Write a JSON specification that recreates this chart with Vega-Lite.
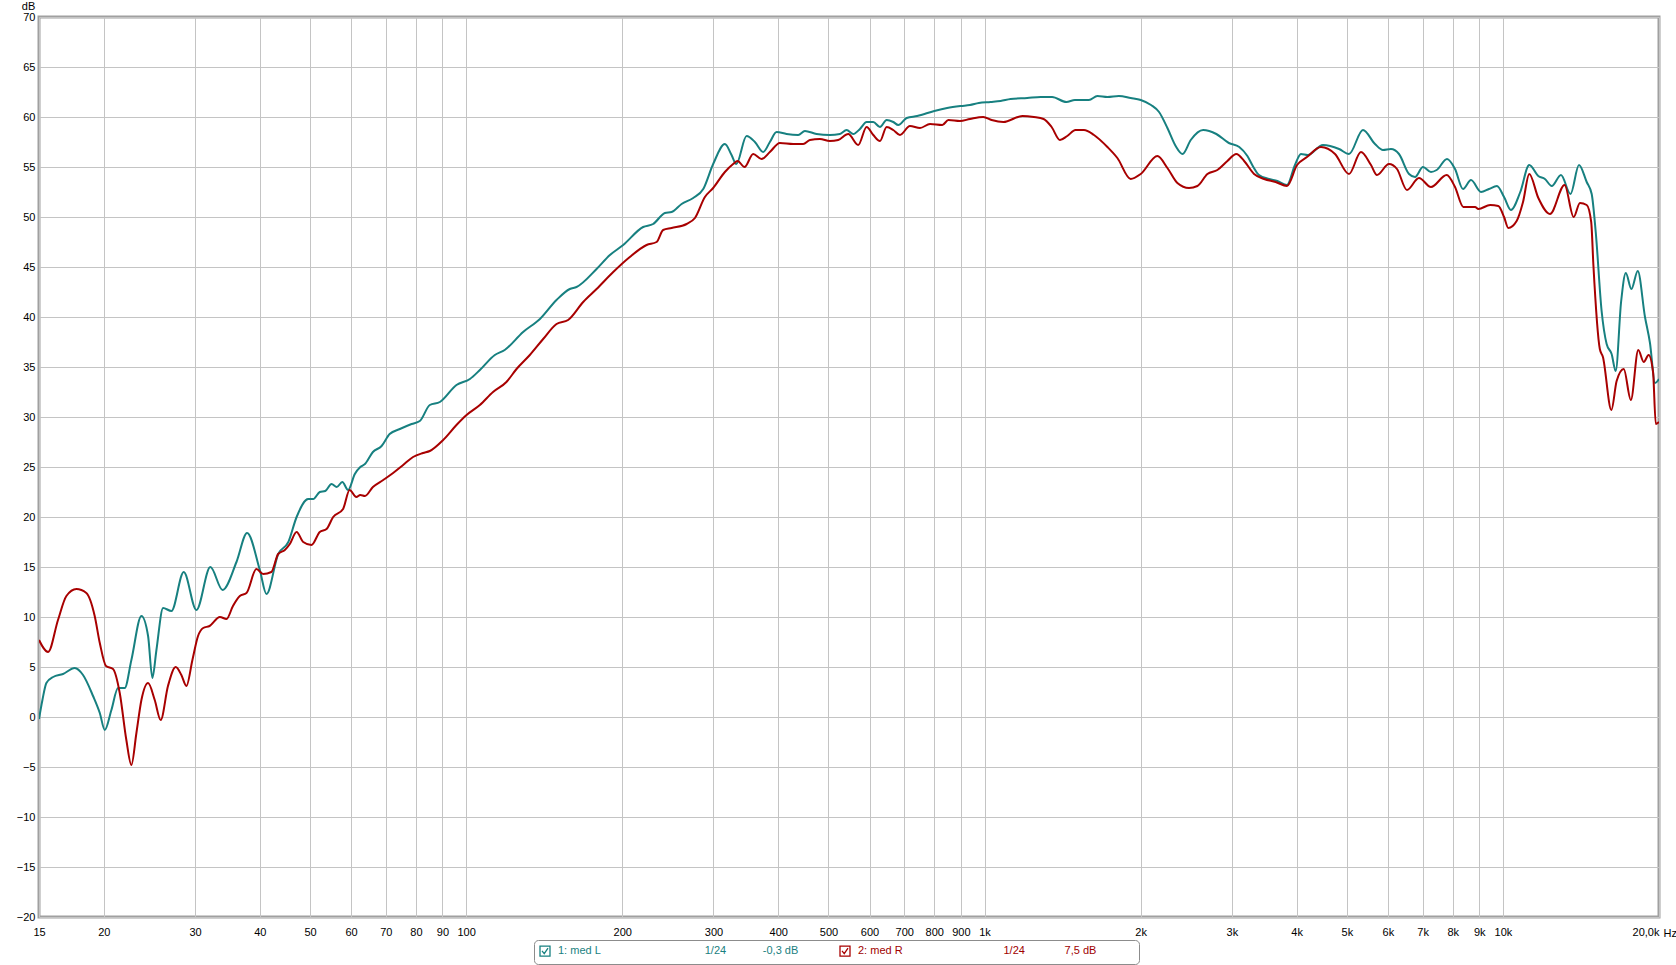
{
  "$schema": "https://vega.github.io/schema/vega-lite/v6.json",
  "width": 1620,
  "height": 900,
  "autosize": {"type": "none"},
  "padding": {"left": 39, "top": 17, "right": 17, "bottom": 48},
  "background": "white",
  "config": {
    "view": {"stroke": "#a0a0a0", "strokeWidth": 3},
    "font": "Liberation Sans",
    "axis": {
      "labelFont": "Liberation Sans",
      "labelFontSize": 11,
      "labelColor": "#000000",
      "titleFont": "Liberation Sans",
      "titleFontSize": 11,
      "titleFontWeight": "normal",
      "titleColor": "#000000",
      "gridColor": "#c4c4c4",
      "gridWidth": 1,
      "ticks": false,
      "domain": false,
      "labelOverlap": false,
      "labelFlush": false,
      "labelBound": false
    }
  },
  "data": {
    "values": [
      {"s": "1: med L", "f": 15.0, "db": -0.2},
      {"s": "1: med L", "f": 15.23, "db": 1.7},
      {"s": "1: med L", "f": 15.5, "db": 3.4},
      {"s": "1: med L", "f": 15.97, "db": 4.0},
      {"s": "1: med L", "f": 16.69, "db": 4.3},
      {"s": "1: med L", "f": 17.58, "db": 4.9},
      {"s": "1: med L", "f": 18.24, "db": 4.2},
      {"s": "1: med L", "f": 19.07, "db": 2.1},
      {"s": "1: med L", "f": 19.65, "db": 0.4},
      {"s": "1: med L", "f": 20.09, "db": -1.3},
      {"s": "1: med L", "f": 20.69, "db": 0.7},
      {"s": "1: med L", "f": 21.31, "db": 2.9},
      {"s": "1: med L", "f": 21.95, "db": 2.9},
      {"s": "1: med L", "f": 22.61, "db": 5.7},
      {"s": "1: med L", "f": 23.64, "db": 10.1},
      {"s": "1: med L", "f": 24.35, "db": 8.1},
      {"s": "1: med L", "f": 24.82, "db": 3.9},
      {"s": "1: med L", "f": 25.27, "db": 6.7},
      {"s": "1: med L", "f": 26.03, "db": 10.9},
      {"s": "1: med L", "f": 27.01, "db": 10.6},
      {"s": "1: med L", "f": 28.53, "db": 14.5},
      {"s": "1: med L", "f": 30.18, "db": 10.7},
      {"s": "1: med L", "f": 32.11, "db": 15.0},
      {"s": "1: med L", "f": 33.9, "db": 12.7},
      {"s": "1: med L", "f": 36.06, "db": 15.5},
      {"s": "1: med L", "f": 37.8, "db": 18.4},
      {"s": "1: med L", "f": 40.0, "db": 14.7},
      {"s": "1: med L", "f": 41.2, "db": 12.3},
      {"s": "1: med L", "f": 43.4, "db": 16.3},
      {"s": "1: med L", "f": 45.4, "db": 17.5},
      {"s": "1: med L", "f": 47.1, "db": 20.0},
      {"s": "1: med L", "f": 49.6, "db": 21.8},
      {"s": "1: med L", "f": 50.7, "db": 21.8},
      {"s": "1: med L", "f": 52.2, "db": 22.5},
      {"s": "1: med L", "f": 53.5, "db": 22.6},
      {"s": "1: med L", "f": 55.0, "db": 23.3},
      {"s": "1: med L", "f": 56.3, "db": 23.0},
      {"s": "1: med L", "f": 57.7, "db": 23.5},
      {"s": "1: med L", "f": 59.2, "db": 22.7},
      {"s": "1: med L", "f": 61.0, "db": 24.3},
      {"s": "1: med L", "f": 62.5, "db": 25.0},
      {"s": "1: med L", "f": 63.8, "db": 25.3},
      {"s": "1: med L", "f": 66.1, "db": 26.5},
      {"s": "1: med L", "f": 68.7, "db": 27.1},
      {"s": "1: med L", "f": 71.2, "db": 28.3},
      {"s": "1: med L", "f": 74.5, "db": 28.8},
      {"s": "1: med L", "f": 78.5, "db": 29.3},
      {"s": "1: med L", "f": 81.4, "db": 29.6},
      {"s": "1: med L", "f": 85.1, "db": 31.2},
      {"s": "1: med L", "f": 89.0, "db": 31.5},
      {"s": "1: med L", "f": 95.8, "db": 33.2},
      {"s": "1: med L", "f": 101.7, "db": 33.8},
      {"s": "1: med L", "f": 106.3, "db": 34.7},
      {"s": "1: med L", "f": 113.6, "db": 36.2},
      {"s": "1: med L", "f": 118.7, "db": 36.7},
      {"s": "1: med L", "f": 128.8, "db": 38.5},
      {"s": "1: med L", "f": 138.8, "db": 39.8},
      {"s": "1: med L", "f": 149.4, "db": 41.7},
      {"s": "1: med L", "f": 158.5, "db": 42.8},
      {"s": "1: med L", "f": 163.3, "db": 43.0},
      {"s": "1: med L", "f": 178.5, "db": 44.8},
      {"s": "1: med L", "f": 189.4, "db": 46.2},
      {"s": "1: med L", "f": 200.9, "db": 47.2},
      {"s": "1: med L", "f": 219.5, "db": 49.0},
      {"s": "1: med L", "f": 229.5, "db": 49.3},
      {"s": "1: med L", "f": 241.8, "db": 50.4},
      {"s": "1: med L", "f": 249.1, "db": 50.5},
      {"s": "1: med L", "f": 260.4, "db": 51.3},
      {"s": "1: med L", "f": 274.2, "db": 51.9},
      {"s": "1: med L", "f": 286.7, "db": 52.8},
      {"s": "1: med L", "f": 299.6, "db": 55.3},
      {"s": "1: med L", "f": 315.6, "db": 57.3},
      {"s": "1: med L", "f": 325.1, "db": 56.2},
      {"s": "1: med L", "f": 332.0, "db": 55.3},
      {"s": "1: med L", "f": 347.5, "db": 58.1},
      {"s": "1: med L", "f": 360.6, "db": 57.5},
      {"s": "1: med L", "f": 374.1, "db": 56.5},
      {"s": "1: med L", "f": 385.4, "db": 57.5},
      {"s": "1: med L", "f": 397.1, "db": 58.5},
      {"s": "1: med L", "f": 415.1, "db": 58.3},
      {"s": "1: med L", "f": 437.1, "db": 58.2},
      {"s": "1: med L", "f": 450.3, "db": 58.6},
      {"s": "1: med L", "f": 474.3, "db": 58.3},
      {"s": "1: med L", "f": 503.0, "db": 58.2},
      {"s": "1: med L", "f": 526.0, "db": 58.3},
      {"s": "1: med L", "f": 541.9, "db": 58.7},
      {"s": "1: med L", "f": 558.2, "db": 58.3},
      {"s": "1: med L", "f": 575.0, "db": 58.8},
      {"s": "1: med L", "f": 592.3, "db": 59.5},
      {"s": "1: med L", "f": 610.1, "db": 59.5},
      {"s": "1: med L", "f": 628.4, "db": 59.0},
      {"s": "1: med L", "f": 647.4, "db": 59.7},
      {"s": "1: med L", "f": 666.8, "db": 59.5},
      {"s": "1: med L", "f": 681.8, "db": 59.2},
      {"s": "1: med L", "f": 707.7, "db": 59.9},
      {"s": "1: med L", "f": 741.6, "db": 60.1},
      {"s": "1: med L", "f": 800, "db": 60.6},
      {"s": "1: med L", "f": 847, "db": 60.9},
      {"s": "1: med L", "f": 900, "db": 61.1},
      {"s": "1: med L", "f": 937, "db": 61.2},
      {"s": "1: med L", "f": 975, "db": 61.4},
      {"s": "1: med L", "f": 1027, "db": 61.5},
      {"s": "1: med L", "f": 1074, "db": 61.6},
      {"s": "1: med L", "f": 1123, "db": 61.8},
      {"s": "1: med L", "f": 1209, "db": 61.9},
      {"s": "1: med L", "f": 1283, "db": 62.0},
      {"s": "1: med L", "f": 1350, "db": 62.0},
      {"s": "1: med L", "f": 1438, "db": 61.5},
      {"s": "1: med L", "f": 1494, "db": 61.7},
      {"s": "1: med L", "f": 1590, "db": 61.7},
      {"s": "1: med L", "f": 1651, "db": 62.1},
      {"s": "1: med L", "f": 1726, "db": 62.0},
      {"s": "1: med L", "f": 1816, "db": 62.1},
      {"s": "1: med L", "f": 1914, "db": 61.9},
      {"s": "1: med L", "f": 2001, "db": 61.7},
      {"s": "1: med L", "f": 2095, "db": 61.2},
      {"s": "1: med L", "f": 2171, "db": 60.5},
      {"s": "1: med L", "f": 2253, "db": 58.9},
      {"s": "1: med L", "f": 2337, "db": 57.1},
      {"s": "1: med L", "f": 2410, "db": 56.3},
      {"s": "1: med L", "f": 2499, "db": 57.7},
      {"s": "1: med L", "f": 2640, "db": 58.7},
      {"s": "1: med L", "f": 2800, "db": 58.3},
      {"s": "1: med L", "f": 2960, "db": 57.4},
      {"s": "1: med L", "f": 3100, "db": 57.0},
      {"s": "1: med L", "f": 3214, "db": 56.1},
      {"s": "1: med L", "f": 3300, "db": 55.0},
      {"s": "1: med L", "f": 3384, "db": 54.2},
      {"s": "1: med L", "f": 3538, "db": 53.8},
      {"s": "1: med L", "f": 3672, "db": 53.6},
      {"s": "1: med L", "f": 3832, "db": 53.2},
      {"s": "1: med L", "f": 3970, "db": 55.2},
      {"s": "1: med L", "f": 4077, "db": 56.3},
      {"s": "1: med L", "f": 4200, "db": 56.2},
      {"s": "1: med L", "f": 4497, "db": 57.2},
      {"s": "1: med L", "f": 4829, "db": 56.8},
      {"s": "1: med L", "f": 5047, "db": 56.3},
      {"s": "1: med L", "f": 5370, "db": 58.7},
      {"s": "1: med L", "f": 5665, "db": 57.3},
      {"s": "1: med L", "f": 5870, "db": 56.7},
      {"s": "1: med L", "f": 6081, "db": 56.8},
      {"s": "1: med L", "f": 6302, "db": 56.3},
      {"s": "1: med L", "f": 6590, "db": 54.3},
      {"s": "1: med L", "f": 6767, "db": 54.0},
      {"s": "1: med L", "f": 7011, "db": 55.0},
      {"s": "1: med L", "f": 7264, "db": 54.5},
      {"s": "1: med L", "f": 7450, "db": 54.7},
      {"s": "1: med L", "f": 7801, "db": 55.8},
      {"s": "1: med L", "f": 8083, "db": 54.8},
      {"s": "1: med L", "f": 8375, "db": 52.8},
      {"s": "1: med L", "f": 8678, "db": 53.7},
      {"s": "1: med L", "f": 9072, "db": 52.5},
      {"s": "1: med L", "f": 9398, "db": 52.8},
      {"s": "1: med L", "f": 9737, "db": 53.1},
      {"s": "1: med L", "f": 10050, "db": 52.0},
      {"s": "1: med L", "f": 10360, "db": 50.7},
      {"s": "1: med L", "f": 10800, "db": 52.5},
      {"s": "1: med L", "f": 11240, "db": 55.2},
      {"s": "1: med L", "f": 11700, "db": 54.1},
      {"s": "1: med L", "f": 12050, "db": 53.8},
      {"s": "1: med L", "f": 12420, "db": 53.1},
      {"s": "1: med L", "f": 12941, "db": 54.2},
      {"s": "1: med L", "f": 13500, "db": 52.3},
      {"s": "1: med L", "f": 14018, "db": 55.2},
      {"s": "1: med L", "f": 14507, "db": 53.5},
      {"s": "1: med L", "f": 14832, "db": 52.3},
      {"s": "1: med L", "f": 15100, "db": 48.5},
      {"s": "1: med L", "f": 15500, "db": 40.6},
      {"s": "1: med L", "f": 15850, "db": 37.3},
      {"s": "1: med L", "f": 16205, "db": 36.3},
      {"s": "1: med L", "f": 16500, "db": 34.6},
      {"s": "1: med L", "f": 16900, "db": 41.5},
      {"s": "1: med L", "f": 17260, "db": 44.4},
      {"s": "1: med L", "f": 17690, "db": 42.8},
      {"s": "1: med L", "f": 18200, "db": 44.6},
      {"s": "1: med L", "f": 18793, "db": 40.0},
      {"s": "1: med L", "f": 19214, "db": 37.4},
      {"s": "1: med L", "f": 19650, "db": 33.4},
      {"s": "1: med L", "f": 20000, "db": 33.8},

      {"s": "2: med R", "f": 15.0, "db": 7.7},
      {"s": "2: med R", "f": 15.62, "db": 6.5},
      {"s": "2: med R", "f": 16.32, "db": 9.7},
      {"s": "2: med R", "f": 16.94, "db": 12.1},
      {"s": "2: med R", "f": 17.71, "db": 12.8},
      {"s": "2: med R", "f": 18.51, "db": 12.4},
      {"s": "2: med R", "f": 19.21, "db": 10.1},
      {"s": "2: med R", "f": 19.65, "db": 7.4},
      {"s": "2: med R", "f": 20.2, "db": 5.1},
      {"s": "2: med R", "f": 20.84, "db": 4.8},
      {"s": "2: med R", "f": 21.47, "db": 2.4},
      {"s": "2: med R", "f": 22.11, "db": -2.3},
      {"s": "2: med R", "f": 22.61, "db": -4.8},
      {"s": "2: med R", "f": 23.12, "db": -1.6},
      {"s": "2: med R", "f": 23.64, "db": 1.7},
      {"s": "2: med R", "f": 24.35, "db": 3.4},
      {"s": "2: med R", "f": 25.08, "db": 1.7},
      {"s": "2: med R", "f": 25.75, "db": -0.3},
      {"s": "2: med R", "f": 26.6, "db": 3.1},
      {"s": "2: med R", "f": 27.53, "db": 5.0},
      {"s": "2: med R", "f": 28.23, "db": 4.2},
      {"s": "2: med R", "f": 28.87, "db": 3.1},
      {"s": "2: med R", "f": 29.65, "db": 5.7},
      {"s": "2: med R", "f": 30.4, "db": 8.1},
      {"s": "2: med R", "f": 31.1, "db": 8.9},
      {"s": "2: med R", "f": 32.0, "db": 9.1},
      {"s": "2: med R", "f": 33.5, "db": 10.0},
      {"s": "2: med R", "f": 34.5, "db": 9.8},
      {"s": "2: med R", "f": 35.5, "db": 11.1},
      {"s": "2: med R", "f": 36.6, "db": 12.1},
      {"s": "2: med R", "f": 37.7, "db": 12.4},
      {"s": "2: med R", "f": 39.4, "db": 14.8},
      {"s": "2: med R", "f": 40.6, "db": 14.3},
      {"s": "2: med R", "f": 42.1, "db": 14.5},
      {"s": "2: med R", "f": 43.4, "db": 16.3},
      {"s": "2: med R", "f": 44.7, "db": 16.7},
      {"s": "2: med R", "f": 45.7, "db": 17.3},
      {"s": "2: med R", "f": 47.1, "db": 18.5},
      {"s": "2: med R", "f": 48.5, "db": 17.5},
      {"s": "2: med R", "f": 50.3, "db": 17.2},
      {"s": "2: med R", "f": 52.2, "db": 18.5},
      {"s": "2: med R", "f": 53.8, "db": 18.8},
      {"s": "2: med R", "f": 55.4, "db": 20.0},
      {"s": "2: med R", "f": 57.9, "db": 20.8},
      {"s": "2: med R", "f": 59.6, "db": 22.7},
      {"s": "2: med R", "f": 61.4, "db": 22.0},
      {"s": "2: med R", "f": 62.5, "db": 22.2},
      {"s": "2: med R", "f": 63.8, "db": 22.1},
      {"s": "2: med R", "f": 66.1, "db": 23.0},
      {"s": "2: med R", "f": 69.2, "db": 23.7},
      {"s": "2: med R", "f": 72.3, "db": 24.4},
      {"s": "2: med R", "f": 75.6, "db": 25.2},
      {"s": "2: med R", "f": 79.0, "db": 26.0},
      {"s": "2: med R", "f": 82.6, "db": 26.4},
      {"s": "2: med R", "f": 85.1, "db": 26.6},
      {"s": "2: med R", "f": 90.3, "db": 27.7},
      {"s": "2: med R", "f": 95.8, "db": 29.2},
      {"s": "2: med R", "f": 100.2, "db": 30.2},
      {"s": "2: med R", "f": 106.3, "db": 31.2},
      {"s": "2: med R", "f": 112.7, "db": 32.5},
      {"s": "2: med R", "f": 119.6, "db": 33.5},
      {"s": "2: med R", "f": 125.1, "db": 34.8},
      {"s": "2: med R", "f": 132.7, "db": 36.2},
      {"s": "2: med R", "f": 140.8, "db": 37.8},
      {"s": "2: med R", "f": 149.4, "db": 39.3},
      {"s": "2: med R", "f": 157.3, "db": 39.7},
      {"s": "2: med R", "f": 168.2, "db": 41.5},
      {"s": "2: med R", "f": 178.5, "db": 42.8},
      {"s": "2: med R", "f": 192.2, "db": 44.5},
      {"s": "2: med R", "f": 206.9, "db": 46.0},
      {"s": "2: med R", "f": 222.9, "db": 47.2},
      {"s": "2: med R", "f": 233.0, "db": 47.5},
      {"s": "2: med R", "f": 239.9, "db": 48.7},
      {"s": "2: med R", "f": 249.1, "db": 48.9},
      {"s": "2: med R", "f": 266.3, "db": 49.3},
      {"s": "2: med R", "f": 276.3, "db": 49.9},
      {"s": "2: med R", "f": 288.8, "db": 52.0},
      {"s": "2: med R", "f": 299.6, "db": 52.9},
      {"s": "2: med R", "f": 315.6, "db": 54.5},
      {"s": "2: med R", "f": 327.4, "db": 55.3},
      {"s": "2: med R", "f": 333.9, "db": 55.6},
      {"s": "2: med R", "f": 344.4, "db": 55.0},
      {"s": "2: med R", "f": 357.9, "db": 56.3},
      {"s": "2: med R", "f": 371.5, "db": 55.8},
      {"s": "2: med R", "f": 385.4, "db": 56.5},
      {"s": "2: med R", "f": 402.9, "db": 57.4},
      {"s": "2: med R", "f": 427.6, "db": 57.3},
      {"s": "2: med R", "f": 446.9, "db": 57.3},
      {"s": "2: med R", "f": 460.4, "db": 57.7},
      {"s": "2: med R", "f": 481.3, "db": 57.8},
      {"s": "2: med R", "f": 503.0, "db": 57.6},
      {"s": "2: med R", "f": 522.1, "db": 57.7},
      {"s": "2: med R", "f": 545.8, "db": 58.3},
      {"s": "2: med R", "f": 570.6, "db": 57.2},
      {"s": "2: med R", "f": 592.3, "db": 59.0},
      {"s": "2: med R", "f": 610.1, "db": 58.2},
      {"s": "2: med R", "f": 628.4, "db": 57.6},
      {"s": "2: med R", "f": 647.4, "db": 59.0},
      {"s": "2: med R", "f": 666.8, "db": 58.7},
      {"s": "2: med R", "f": 686.8, "db": 58.2},
      {"s": "2: med R", "f": 718.0, "db": 59.1},
      {"s": "2: med R", "f": 750.8, "db": 58.9},
      {"s": "2: med R", "f": 784.9, "db": 59.3},
      {"s": "2: med R", "f": 829, "db": 59.2},
      {"s": "2: med R", "f": 851.7, "db": 59.7},
      {"s": "2: med R", "f": 896.6, "db": 59.6},
      {"s": "2: med R", "f": 937.3, "db": 59.8},
      {"s": "2: med R", "f": 994.3, "db": 60.0},
      {"s": "2: med R", "f": 1032, "db": 59.7},
      {"s": "2: med R", "f": 1087, "db": 59.5},
      {"s": "2: med R", "f": 1183, "db": 60.1},
      {"s": "2: med R", "f": 1245, "db": 60.0},
      {"s": "2: med R", "f": 1300, "db": 59.8},
      {"s": "2: med R", "f": 1347, "db": 59.0},
      {"s": "2: med R", "f": 1398, "db": 57.7},
      {"s": "2: med R", "f": 1444, "db": 58.1},
      {"s": "2: med R", "f": 1498, "db": 58.7},
      {"s": "2: med R", "f": 1555, "db": 58.7},
      {"s": "2: med R", "f": 1626, "db": 58.2},
      {"s": "2: med R", "f": 1726, "db": 57.0},
      {"s": "2: med R", "f": 1804, "db": 55.9},
      {"s": "2: med R", "f": 1914, "db": 53.8},
      {"s": "2: med R", "f": 2001, "db": 54.3},
      {"s": "2: med R", "f": 2155, "db": 56.1},
      {"s": "2: med R", "f": 2253, "db": 54.9},
      {"s": "2: med R", "f": 2355, "db": 53.4},
      {"s": "2: med R", "f": 2480, "db": 52.9},
      {"s": "2: med R", "f": 2574, "db": 53.1},
      {"s": "2: med R", "f": 2691, "db": 54.3},
      {"s": "2: med R", "f": 2813, "db": 54.7},
      {"s": "2: med R", "f": 2941, "db": 55.6},
      {"s": "2: med R", "f": 3060, "db": 56.3},
      {"s": "2: med R", "f": 3168, "db": 55.6},
      {"s": "2: med R", "f": 3311, "db": 54.3},
      {"s": "2: med R", "f": 3462, "db": 53.8},
      {"s": "2: med R", "f": 3644, "db": 53.5},
      {"s": "2: med R", "f": 3832, "db": 53.1},
      {"s": "2: med R", "f": 4007, "db": 55.2},
      {"s": "2: med R", "f": 4188, "db": 56.0},
      {"s": "2: med R", "f": 4457, "db": 57.0},
      {"s": "2: med R", "f": 4743, "db": 56.3},
      {"s": "2: med R", "f": 5047, "db": 54.3},
      {"s": "2: med R", "f": 5322, "db": 56.5},
      {"s": "2: med R", "f": 5565, "db": 55.2},
      {"s": "2: med R", "f": 5715, "db": 54.2},
      {"s": "2: med R", "f": 6028, "db": 55.3},
      {"s": "2: med R", "f": 6246, "db": 54.8},
      {"s": "2: med R", "f": 6529, "db": 52.7},
      {"s": "2: med R", "f": 6887, "db": 53.9},
      {"s": "2: med R", "f": 7264, "db": 53.0},
      {"s": "2: med R", "f": 7788, "db": 54.2},
      {"s": "2: med R", "f": 8083, "db": 53.0},
      {"s": "2: med R", "f": 8387, "db": 51.0},
      {"s": "2: med R", "f": 8835, "db": 51.0},
      {"s": "2: med R", "f": 8966, "db": 50.8},
      {"s": "2: med R", "f": 9450, "db": 51.2},
      {"s": "2: med R", "f": 9797, "db": 51.1},
      {"s": "2: med R", "f": 10050, "db": 50.0},
      {"s": "2: med R", "f": 10240, "db": 48.9},
      {"s": "2: med R", "f": 10627, "db": 49.6},
      {"s": "2: med R", "f": 10933, "db": 51.5},
      {"s": "2: med R", "f": 11240, "db": 54.3},
      {"s": "2: med R", "f": 11703, "db": 51.9},
      {"s": "2: med R", "f": 12323, "db": 50.3},
      {"s": "2: med R", "f": 13150, "db": 53.2},
      {"s": "2: med R", "f": 13690, "db": 50.0},
      {"s": "2: med R", "f": 14078, "db": 51.4},
      {"s": "2: med R", "f": 14507, "db": 51.2},
      {"s": "2: med R", "f": 14800, "db": 49.5},
      {"s": "2: med R", "f": 14944, "db": 45.2},
      {"s": "2: med R", "f": 15377, "db": 36.8},
      {"s": "2: med R", "f": 15590, "db": 36.0},
      {"s": "2: med R", "f": 16185, "db": 30.7},
      {"s": "2: med R", "f": 16570, "db": 33.6},
      {"s": "2: med R", "f": 17100, "db": 34.8},
      {"s": "2: med R", "f": 17650, "db": 31.7},
      {"s": "2: med R", "f": 18240, "db": 36.7},
      {"s": "2: med R", "f": 18690, "db": 35.5},
      {"s": "2: med R", "f": 19100, "db": 36.2},
      {"s": "2: med R", "f": 19478, "db": 34.5},
      {"s": "2: med R", "f": 19717, "db": 29.3},
      {"s": "2: med R", "f": 20000, "db": 29.5}
    ]
  },
  "mark": {"type": "line", "strokeWidth": 2, "interpolate": "monotone", "clip": true},
  "encoding": {
    "x": {
      "field": "f",
      "type": "quantitative",
      "scale": {"type": "log", "domain": [15, 20000], "nice": false},
      "axis": {
        "values": [15, 20, 30, 40, 50, 60, 70, 80, 90, 100, 200, 300, 400, 500, 600, 700, 800, 900, 1000, 2000, 3000, 4000, 5000, 6000, 7000, 8000, 9000, 10000, 20000],
        "labelExpr": "datum.value >= 20000 ? '20,0k' : (datum.value >= 1000 ? (datum.value / 1000) + 'k' : '' + datum.value)",
        "labelAlign": {"condition": {"test": "datum.value >= 20000", "value": "right"}, "value": "center"},
        "labelPadding": 9,
        "title": "Hz",
        "titleX": 1624,
        "titleY": 16,
        "titleAlign": "left",
        "titleBaseline": "middle",
        "titleAngle": 0
      }
    },
    "y": {
      "field": "db",
      "type": "quantitative",
      "scale": {"domain": [-20, 70], "nice": false, "zero": false},
      "axis": {
        "values": [-20, -15, -10, -5, 0, 5, 10, 15, 20, 25, 30, 35, 40, 45, 50, 55, 60, 65, 70],
        "labelPadding": 4,
        "title": "dB",
        "titleAngle": 0,
        "titleX": -11,
        "titleY": -11,
        "titleAlign": "center",
        "titleBaseline": "middle"
      }
    },
    "color": {
      "field": "s",
      "type": "nominal",
      "scale": {"domain": ["1: med L", "2: med R"], "range": ["#178080", "#a80000"]},
      "legend": {
        "orient": "none",
        "legendX": 495,
        "legendY": 923,
        "direction": "horizontal",
        "title": null,
        "strokeColor": "#8c8c8c",
        "fillColor": "#ffffff",
        "cornerRadius": 4,
        "padding": 5,
        "columnPadding": 38,
        "labelOffset": 7,
        "labelFont": "Liberation Sans",
        "labelFontSize": 11,
        "labelLimit": 0,
        "symbolType": "M-1,-1H1V1H-1Z M-0.6,-0.05L-0.15,0.5L0.6,-0.6",
        "symbolSize": 100,
        "symbolStrokeWidth": 1.3,
        "symbolStrokeColor": "#333333",
        "symbolFillColor": "#ffffff",
        "labelExpr": "datum.value == '1: med L' ? ('1: med L' + pad('', 34, '\u00a0') + '1/24' + pad('', 12, '\u00a0') + '-0,3 dB') : ('2: med R' + pad('', 33, '\u00a0') + '1/24' + pad('', 13, '\u00a0') + '7,5 dB' + pad('', 12, '\u00a0') + '\u200b')",
        "encode": {
          "labels": {"update": {"fill": {"signal": "datum.value == '1: med L' ? '#1a7f7f' : '#a00000'"}}},
          "symbols": {"update": {"stroke": {"signal": "'#333333'"}, "fill": {"signal": "'#ffffff'"}}}
        }
      }
    }
  }
}
